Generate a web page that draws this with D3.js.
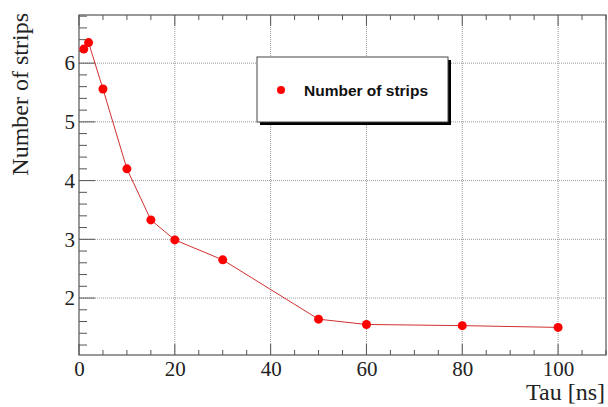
<!DOCTYPE html>
<html>
<head>
<meta charset="utf-8">
<script src="https://cdn.jsdelivr.net/npm/d3@7"></script>
<style>
  body { margin: 0; background: #fff; }
  svg { display: block; }
</style>
</head>
<body>
<script>
// data
var tauValues = [1, 2, 5, 10, 15, 20, 30, 50, 60, 80, 100];
var stripValues = [6.24, 6.35, 5.56, 4.20, 3.33, 2.99, 2.65, 1.64, 1.55, 1.53, 1.50];
var xTickLabels = [0, 20, 40, 60, 80, 100];
var yTickLabels = [2, 3, 4, 5, 6];
var seriesName = "Number of strips";

window.onload = () => {
    var W = 608, H = 407;
    var margin = { top: 15, right: 2, bottom: 52, left: 79 },
        width = W - margin.left - margin.right,
        height = H - margin.top - margin.bottom;

    var x = d3.scaleLinear().domain([0, 110]).range([0, width]);
    var y = d3.scaleLinear().domain([1.03, 6.82]).range([height, 0]);

    var svgRoot = d3.select("body").append("svg")
        .attr("width", W).attr("height", H);
    var svg = svgRoot.append("g")
        .attr("transform", "translate(" + margin.left + "," + margin.top + ")");

    // grid (dotted)
    var grid = svg.append("g");
    grid.selectAll(".gx").data(xTickLabels.filter(d => d > 0)).enter()
        .append("line")
        .attr("x1", d => x(d)).attr("x2", d => x(d))
        .attr("y1", 0).attr("y2", height)
        .attr("stroke", "#999").attr("stroke-width", 1)
        .attr("stroke-dasharray", "1,1");
    grid.selectAll(".gy").data(yTickLabels).enter()
        .append("line")
        .attr("x1", 0).attr("x2", width)
        .attr("y1", d => y(d)).attr("y2", d => y(d))
        .attr("stroke", "#999").attr("stroke-width", 1)
        .attr("stroke-dasharray", "1,1");

    // ticks: major + minor, ROOT style (inside)
    var tickColor = "#555";
    var xMinor = d3.range(0, 110.01, 5);
    svg.append("g").selectAll("line").data(xMinor).enter()
        .append("line")
        .attr("x1", d => x(d)).attr("x2", d => x(d))
        .attr("y1", height)
        .attr("y2", d => height - (d % 20 === 0 ? 11 : 5))
        .attr("stroke", tickColor).attr("stroke-width", 1);
    svg.append("g").selectAll("line").data(xMinor).enter()
        .append("line")
        .attr("x1", d => x(d)).attr("x2", d => x(d))
        .attr("y1", 0)
        .attr("y2", d => (d % 20 === 0 ? 11 : 5))
        .attr("stroke", tickColor).attr("stroke-width", 1);

    var yMinor = d3.range(1.2, 6.81, 0.2);
    svg.append("g").selectAll("line").data(yMinor).enter()
        .append("line")
        .attr("x1", 0)
        .attr("x2", d => (Math.abs(d - Math.round(d)) < 0.01 ? 16 : 8))
        .attr("y1", d => y(d)).attr("y2", d => y(d))
        .attr("stroke", tickColor).attr("stroke-width", 1);

    // frame
    svg.append("rect")
        .attr("x", 0).attr("y", 0)
        .attr("width", width).attr("height", height)
        .attr("fill", "none").attr("stroke", "#555").attr("stroke-width", 1.2);

    // tick labels via axes with no tick lines
    var xAxis = svg.append("g")
        .attr("transform", "translate(0," + height + ")")
        .call(d3.axisBottom(x).tickValues(xTickLabels).tickFormat(d3.format("d"))
            .tickSize(0).tickPadding(6));
    var yAxis = svg.append("g")
        .call(d3.axisLeft(y).tickValues(yTickLabels).tickFormat(d3.format("d"))
            .tickSize(0).tickPadding(4));
    [xAxis, yAxis].forEach(function (a) {
        a.select(".domain").remove();
        a.selectAll("text")
            .style("font-family", "'Liberation Serif', 'Times New Roman', serif")
            .style("font-size", "21px")
            .attr("fill", "#222");
    });

    // axis titles
    svgRoot.append("text")
        .attr("x", 605).attr("y", 400)
        .attr("text-anchor", "end")
        .style("font-family", "'Liberation Serif', 'Times New Roman', serif")
        .style("font-size", "24px")
        .attr("fill", "#222")
        .text("Tau [ns]");
    svgRoot.append("text")
        .attr("transform", "translate(28,13) rotate(-90)")
        .attr("text-anchor", "end")
        .style("font-family", "'Liberation Serif', 'Times New Roman', serif")
        .style("font-size", "24px")
        .attr("fill", "#222")
        .text("Number of strips");

    // line + markers
    var pts = tauValues.map((t, i) => [t, stripValues[i]]);
    var line = d3.line().x(d => x(d[0])).y(d => y(d[1]));
    svg.append("path")
        .datum(pts)
        .attr("d", line)
        .attr("fill", "none")
        .attr("stroke", "#d23030")
        .attr("stroke-width", 1);
    svg.append("g").selectAll("circle").data(pts).enter()
        .append("circle")
        .attr("cx", d => x(d[0])).attr("cy", d => y(d[1]))
        .attr("r", 4.5)
        .attr("fill", "#ff0000");

    // legend
    var lg = svgRoot.append("g").attr("transform", "translate(257,57)");
    lg.append("rect").attr("x", 3).attr("y", 3)
        .attr("width", 191).attr("height", 65).attr("fill", "#000");
    lg.append("rect").attr("x", 0).attr("y", 0)
        .attr("width", 191).attr("height", 65)
        .attr("fill", "#fff").attr("stroke", "#444").attr("stroke-width", 1);
    lg.append("circle").attr("cx", 24).attr("cy", 33).attr("r", 4).attr("fill", "#ff0000");
    lg.append("text")
        .attr("x", 47).attr("y", 38.5)
        .style("font-family", "'Liberation Sans', Arial, sans-serif")
        .style("font-weight", "bold")
        .style("font-size", "15.5px")
        .attr("fill", "#111")
        .text(seriesName);
};
</script>
</body>
</html>
